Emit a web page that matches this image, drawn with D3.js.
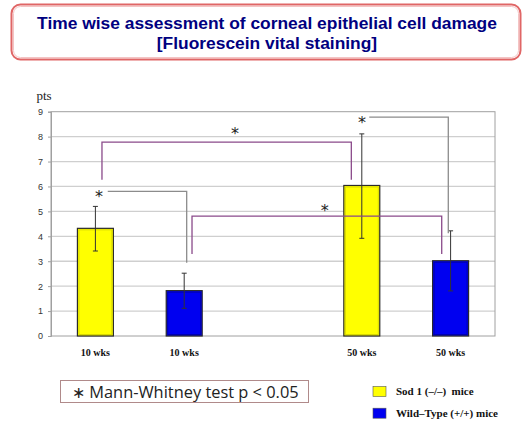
<!DOCTYPE html>
<html>
<head>
<meta charset="utf-8">
<script src="https://cdn.jsdelivr.net/npm/d3@7"></script>
<style>
  body { margin: 0; background: #fff; }
  svg { display: block; }
</style>
</head>
<body>
<div id="containerDiv"></div>
<script>
// bar data (slot 2 is the empty gap between 10 wks and 50 wks)
const slots = [0, 1, 2, 3, 4];
const barSlots = [0, 1, 3, 4];
const barLabels = ["10 wks", "10 wks", "50 wks", "50 wks"];
const barGroups = ["sod", "wt", "sod", "wt"];
const barMeans = [4.32, 1.82, 6.04, 3.02];
const errHigh = [5.2, 2.52, 8.11, 4.22];
const errLow = [3.41, 1.11, 3.92, 1.81];
const yTicks = [0, 1, 2, 3, 4, 5, 6, 7, 8, 9];

// significance brackets: x in slot units, y in pts
const brackets = [
  { color: "#8a4a8a", pts: [[0.074, 6.27], [0.074, 7.78], [2.882, 7.78], [2.882, 6.27]], star: [1.572, 8.2] },
  { color: "#8c8c8c", pts: [[0.139, 5.8], [1.028, 5.8], [1.028, 2.94]], star: [0.041, 5.65] },
  { color: "#8a4a8a", pts: [[1.088, 3.29], [1.088, 4.81], [3.9, 4.81], [3.9, 3.29]], star: [2.582, 5.1] },
  { color: "#8c8c8c", pts: [[3.084, 8.78], [3.974, 8.78], [3.974, 4.12]], star: [3.002, 8.63] }
];

const legendNames = ["Sod 1 (\u2013/\u2013)  mice", "Wild\u2013Type (+/+) mice"];
const colors = { sod: "#ffff00", wt: "#0000f0" };

const W = 527, H = 421;
const svg = d3.select("#containerDiv").append("svg")
  .attr("width", W).attr("height", H);

// title box
svg.append("rect")
  .attr("x", 11.5).attr("y", 4.5).attr("width", 509).attr("height", 55)
  .attr("rx", 9).attr("fill", "#fff")
  .attr("stroke", "#e06666").attr("stroke-width", 2);
svg.append("rect")
  .attr("x", 13.5).attr("y", 6.5).attr("width", 505).attr("height", 51)
  .attr("rx", 7).attr("fill", "none")
  .attr("stroke", "#f4c4c4").attr("stroke-width", 1);
const titleLines = ["Time wise assessment of corneal epithelial cell damage", "[Fluorescein vital staining]"];
svg.selectAll("text.title").data(titleLines).enter().append("text")
  .attr("class", "title")
  .attr("x", 267).attr("y", (d, i) => 29 + i * 19.5)
  .attr("text-anchor", "middle")
  .style("font-family", "Liberation Sans, Arial, sans-serif")
  .style("font-weight", "bold").style("font-size", "17.4px")
  .attr("fill", "#000080")
  .text(d => d);

// plot area
const plotLeft = 51, plotRight = 495, plotTop = 111.7, plotBottom = 336;
const x = d3.scaleBand().domain(slots).range([plotLeft, plotRight])
  .paddingInner(0.595).paddingOuter(0.2975);
const xc = d3.scaleLinear().domain([-0.5, 4.5]).range([plotLeft, plotRight]);
const y = d3.scaleLinear().domain([0, 9]).range([plotBottom, plotTop]);

// grid
svg.append("g").selectAll("line").data(yTicks.slice(1, -1)).enter().append("line")
  .attr("x1", plotLeft).attr("x2", plotRight)
  .attr("y1", d => y(d)).attr("y2", d => y(d))
  .attr("stroke", "#cfcfcf").attr("stroke-width", 1.3);

// frame
svg.append("rect")
  .attr("x", plotLeft).attr("y", plotTop).attr("width", plotRight - plotLeft).attr("height", plotBottom - plotTop)
  .attr("fill", "none").attr("stroke", "#a0a0a0").attr("stroke-width", 1);

// y axis
const yAxis = d3.axisLeft(y).tickValues(yTicks).tickSize(3).tickPadding(5);
const gY = svg.append("g").attr("transform", `translate(${plotLeft},0)`).call(yAxis);
gY.select(".domain").attr("stroke", "#a0a0a0");
gY.selectAll(".tick line").attr("stroke", "#a0a0a0");
gY.selectAll(".tick text")
  .style("font-family", "Liberation Sans, Arial, sans-serif")
  .style("font-size", "9px").attr("fill", "#333");

svg.append("text").attr("x", 44).attr("y", 100)
  .attr("text-anchor", "middle")
  .style("font-family", "Liberation Serif, Times New Roman, serif")
  .style("font-size", "13px").attr("fill", "#222").text("pts");

// bars
const bars = svg.append("g");
barSlots.forEach((s, i) => {
  bars.append("rect")
    .attr("x", x(s)).attr("y", y(barMeans[i]))
    .attr("width", x.bandwidth()).attr("height", y(0) - y(barMeans[i]))
    .attr("fill", colors[barGroups[i]])
    .attr("stroke", "#2a2a2a").attr("stroke-width", 1.2);
  // slight bevel inside the outline
  bars.append("rect")
    .attr("x", x(s) + 1.5).attr("y", y(barMeans[i]) + 1.5)
    .attr("width", x.bandwidth() - 3).attr("height", y(0) - y(barMeans[i]) - 3)
    .attr("fill", "none")
    .attr("stroke", barGroups[i] === "sod" ? "#d8d800" : "#0000b0").attr("stroke-width", 1);
});

// error bars
const errs = svg.append("g").attr("stroke", "#333").attr("stroke-width", 1);
barSlots.forEach((s, i) => {
  const cx = x(s) + x.bandwidth() / 2;
  errs.append("line").attr("x1", cx).attr("x2", cx)
    .attr("y1", y(errHigh[i])).attr("y2", y(errLow[i]));
  [errHigh[i], errLow[i]].forEach(v => {
    errs.append("line").attr("x1", cx - 2.5).attr("x2", cx + 2.5)
      .attr("y1", y(v)).attr("y2", y(v));
  });
});

// x labels
svg.append("g").selectAll("text").data(barSlots).enter().append("text")
  .attr("x", d => x(d) + x.bandwidth() / 2).attr("y", 356)
  .attr("text-anchor", "middle")
  .style("font-family", "Liberation Serif, Times New Roman, serif")
  .style("font-weight", "bold").style("font-size", "10px").attr("fill", "#111")
  .text((d, i) => barLabels[i]);

// brackets
const line = d3.line().x(d => xc(d[0])).y(d => y(d[1]));
brackets.forEach(b => {
  svg.append("path").attr("d", line(b.pts))
    .attr("fill", "none").attr("stroke", b.color).attr("stroke-width", 1.3);
  svg.append("text").attr("x", xc(b.star[0])).attr("y", y(b.star[1]) + 7)
    .attr("text-anchor", "middle")
    .style("font-family", "DejaVu Sans, sans-serif")
    .style("font-size", "16px").attr("fill", "#222").text("*");
});

// Mann-Whitney note
svg.append("rect").attr("x", 60.5).attr("y", 380.5).attr("width", 248).attr("height", 22)
  .attr("fill", "#fff").attr("stroke", "#b08a8a").attr("stroke-width", 1);
svg.append("text").attr("x", 72).attr("y", 397.5)
  .style("font-family", "Open Sans, Liberation Sans, sans-serif")
  .style("font-size", "16.4px").attr("fill", "#222")
  .text("\u2217 Mann-Whitney test p < 0.05");

// legend
const legend = svg.append("g");
["sod", "wt"].forEach((g, i) => {
  legend.append("rect").attr("x", 373).attr("y", 386.5 + i * 21.7)
    .attr("width", 13).attr("height", 10)
    .attr("fill", colors[g]).attr("stroke", "#555").attr("stroke-width", 0.6);
  legend.append("text").attr("x", 396).attr("y", 395 + i * 21.7)
    .style("font-family", "Liberation Serif, Times New Roman, serif")
    .style("font-weight", "bold").style("font-size", "11px").attr("fill", "#111")
    .style("white-space", "pre")
    .text(legendNames[i]);
});
</script>
</body>
</html>
